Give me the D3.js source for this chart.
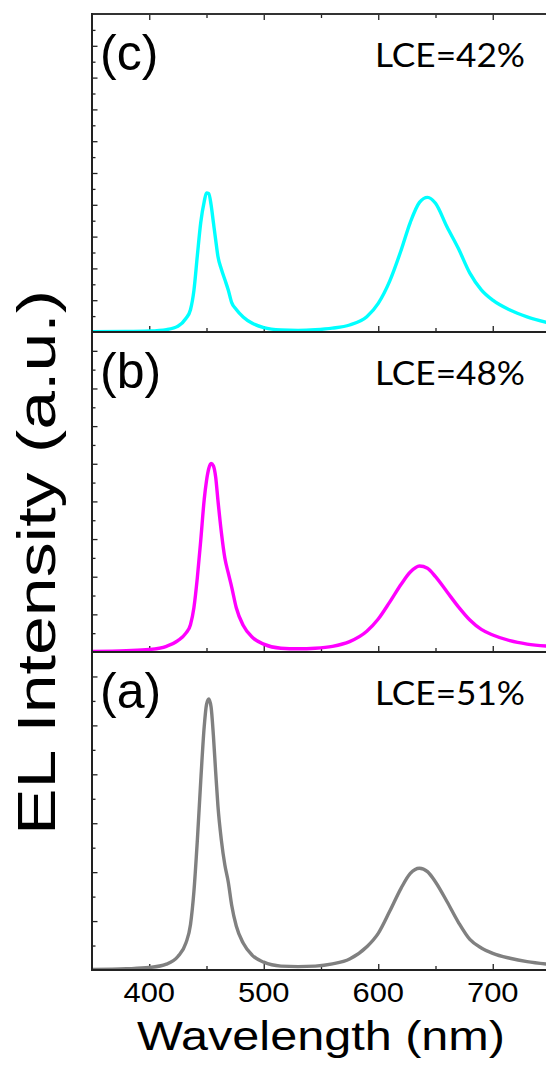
<!DOCTYPE html>
<html><head><meta charset="utf-8">
<script src="https://cdn.jsdelivr.net/npm/d3@7"></script>
<style>body{margin:0;background:#fff}svg{display:block}</style>
</head><body>
<svg id="chart" width="546" height="1068"></svg>
<script>
const wavelength = [350,380,400,415,425,432,436,439,442,445,448,450,452,454,456,458,460,463,466,469,472,476,482,490,500,515,530,545,560,575,590,600,610,620,628,636,643,650,660,670,680,690,700,715,730,750];
const seriesA = [0.02,0.05,0.1,0.24,0.55,1.1,1.85,3.2,5.3,7.75,9.95,10.85,11.08,10.75,9.6,8.1,6.7,5.3,4.3,3.6,2.65,1.8,1.1,0.6,0.32,0.16,0.14,0.16,0.25,0.45,0.95,1.5,2.4,3.35,3.95,4.16,4.02,3.6,2.8,1.95,1.25,0.9,0.68,0.48,0.34,0.23];
const seriesB = [0.03,0.07,0.13,0.3,0.6,1.0,1.45,2.35,3.95,5.95,8.1,9.1,9.75,10.02,9.9,9.3,8.05,6.35,5.0,4.2,3.45,2.35,1.42,0.78,0.42,0.2,0.17,0.2,0.3,0.55,1.1,1.75,2.65,3.6,4.25,4.57,4.45,4.0,3.2,2.4,1.7,1.2,0.9,0.6,0.42,0.3];
const seriesC = [0.02,0.03,0.06,0.15,0.36,0.85,1.4,2.6,4.8,6.9,8.2,8.75,8.7,8.0,6.9,5.8,4.75,3.95,3.3,2.64,1.85,1.42,0.95,0.55,0.28,0.13,0.1,0.14,0.24,0.44,0.96,1.8,3.2,5.15,6.9,8.15,8.47,8.1,6.62,5.25,3.7,2.65,2.0,1.38,0.95,0.55];
const panelLabels = ["(c)","(b)","(a)"];
const lceLabels = ["LCE=42%","LCE=48%","LCE=51%"];
const panelMax = [20,17,13];
const xTickValues = [400,500,600,700];
const xMinorTicks = [450,550,650];

const svg = d3.select("#chart");
const left = 92, right = 550;
const tops = [14,332,652], bottoms = [332,652,970];
const colors = ["#00FFFF","#FF00FF","#808080"];
const allSeries = [seriesC, seriesB, seriesA];

const x = d3.scaleLinear().domain([350,750]).range([left,right]);

svg.append("defs").selectAll("clipPath").data([0,1,2]).join("clipPath")
  .attr("id", i => "clip"+i)
  .append("rect").attr("x", left).attr("y", i => tops[i]-2)
  .attr("width", right-left).attr("height", i => bottoms[i]-tops[i]+1);

[0,1,2].forEach(i => {
  const y = d3.scaleLinear().domain([0,panelMax[i]]).range([bottoms[i], tops[i]]);
  const g = svg.append("g");
  const ticks = d3.range(1, panelMax[i]);
  const yAxis = d3.axisRight(y).tickValues(ticks).tickFormat("").tickSizeOuter(0).tickSize(0);
  const ya = g.append("g").attr("transform",`translate(${left},0)`).call(yAxis);
  ya.select(".domain").remove();
  ya.selectAll(".tick line").attr("x2", d => d%2===0 ? 5.5 : 3.5).attr("stroke","#222").attr("stroke-width",1.3);
  const xAxis = d3.axisTop(x).tickValues(xTickValues.concat(xMinorTicks)).tickFormat("").tickSize(0).tickSizeOuter(0);
  const xa = g.append("g").attr("transform",`translate(0,${bottoms[i]})`).call(xAxis);
  xa.select(".domain").remove();
  xa.selectAll(".tick line").attr("y2", d => xTickValues.includes(d) ? -6 : -4).attr("stroke","#222").attr("stroke-width",1.3);
  if (i===0) {
    const xt = d3.axisBottom(x).tickValues(xTickValues.concat(xMinorTicks)).tickFormat("").tickSize(0).tickSizeOuter(0);
    const xta = g.append("g").attr("transform",`translate(0,${tops[i]})`).call(xt);
    xta.select(".domain").remove();
    xta.selectAll(".tick line").attr("y2", d => xTickValues.includes(d) ? 6 : 4).attr("stroke","#222").attr("stroke-width",1.3);
    g.append("line").attr("x1",left).attr("x2",right).attr("y1",tops[i]).attr("y2",tops[i]).attr("stroke","#333").attr("stroke-width",2);
  }
  const line = d3.line().x((d,k)=>x(wavelength[k])).y(d=>y(d)).curve(d3.curveMonotoneX);
  g.append("path").datum(allSeries[i]).attr("d", line).attr("fill","none")
    .attr("stroke", colors[i]).attr("stroke-width",3.4).attr("stroke-linejoin","round")
    .attr("clip-path",`url(#clip${i})`);
  g.append("line").attr("x1",left).attr("x2",right).attr("y1",bottoms[i]).attr("y2",bottoms[i]).attr("stroke","#222").attr("stroke-width",2);
  g.append("text").attr("x",100).attr("y",tops[i]+56).text(panelLabels[i])
    .attr("font-family","Liberation Sans, Arial, sans-serif").attr("font-size",50).attr("fill","#000");
  g.append("text").attr("x",375).attr("y",tops[i]+53).text(lceLabels[i])
    .attr("textLength",150).attr("lengthAdjust","spacingAndGlyphs")
    .attr("font-family","Lato, sans-serif").attr("font-size",33).attr("fill","#000");
});
svg.append("line").attr("x1",left).attr("x2",left).attr("y1",tops[0]-1).attr("y2",bottoms[2]+1).attr("stroke","#222").attr("stroke-width",2);

svg.append("g").selectAll("text").data(xTickValues).join("text")
  .attr("x", d=>x(d)-25.8).attr("y",1002).text(d=>d)
  .attr("textLength",51.6).attr("lengthAdjust","spacingAndGlyphs")
  .attr("font-family","Liberation Sans, Arial, sans-serif").attr("font-size",28);
svg.append("text").attr("x",137).attr("y",1050).text("Wavelength (nm)")
  .attr("textLength",368).attr("lengthAdjust","spacingAndGlyphs")
  .attr("font-family","Liberation Sans, Arial, sans-serif").attr("font-size",40);
svg.append("text").attr("transform","translate(55,835) rotate(-90)")
  .attr("textLength",545).attr("lengthAdjust","spacingAndGlyphs")
  .text("EL Intensity (a.u.)").attr("font-family","Liberation Sans, Arial, sans-serif").attr("font-size",54);
</script>
</body></html>
